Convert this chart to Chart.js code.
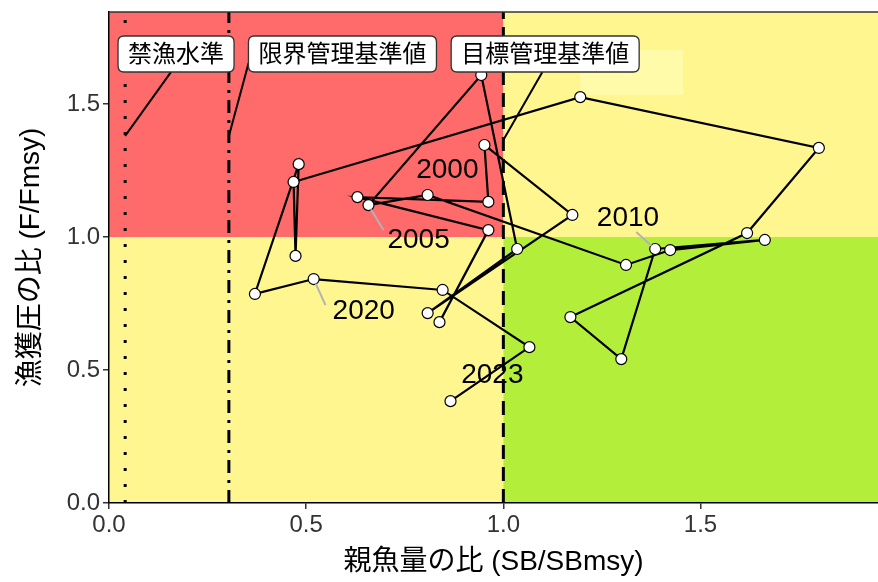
<!DOCTYPE html>
<html lang="ja">
<head>
<meta charset="utf-8">
<title>神戸プロット</title>
<script src="https://cdn.jsdelivr.net/npm/chart.js@4.4.1/dist/chart.umd.min.js"></script>
<style>
  html, body { margin: 0; padding: 0; background: #fff; }
  #wrap { width: 878px; height: 582px; }
</style>
</head>
<body>
<div id="wrap"><canvas id="kobeChart" width="878" height="582"></canvas></div>
<script>
// 年ごとの親魚量の比と漁獲圧の比
const years = [1996, 1997, 1998, 1999, 2000, 2001, 2002, 2003, 2004, 2005,
               2006, 2007, 2008, 2009, 2010, 2011, 2012, 2013, 2014, 2015,
               2016, 2017, 2018, 2019, 2020, 2021, 2022, 2023];
const sbRatio = [0.838, 0.962, 0.630, 0.962, 0.952, 1.175, 0.808, 1.035, 0.944, 0.658,
                 0.808, 1.311, 1.423, 1.663, 1.385, 1.299, 1.170, 1.618, 1.800, 1.195,
                 0.468, 0.473, 0.481, 0.370, 0.519, 0.846, 1.066, 0.866];
const fRatio = [0.680, 1.026, 1.150, 1.132, 1.346, 1.083, 0.714, 0.955, 1.609, 1.120,
                1.158, 0.895, 0.951, 0.989, 0.955, 0.541, 0.699, 1.015, 1.335, 1.526,
                1.207, 0.929, 1.274, 0.786, 0.842, 0.801, 0.586, 0.383];

// 目盛り
const xTicks = [0, 0.5, 1.0, 1.5];
const yTicks = [0, 0.5, 1.0, 1.5];

// 管理基準値
const refNames = ['禁漁水準', '限界管理基準値', '目標管理基準値'];
const refValues = [0.041, 0.304, 1.0];

// ラベルを付ける年
const labelYears = [2000, 2005, 2010, 2020, 2023];

// 色と線種
const RED = '#FF6A6A';
const YELLOW = '#FFF68F';
const GREEN = '#B3EE3A';
const FONT = "'Liberation Sans', 'Noto Sans CJK JP', sans-serif";
const refDash = [[3, 13], [13, 7, 3, 7], [14, 8]];

// 基準値ラベルの配置 (データ座標)
const refLabelLayout = [
    { cx: 0.170, cy: 1.688, ax: 1.380, ex: 0.157, ey: 1.620 },
    { cx: 0.592, cy: 1.688, ax: 1.380, ex: 0.354, ey: 1.654 },
    { cx: 1.106, cy: 1.688, ax: 1.365, ex: 1.099, ey: 1.620 }
];

// 年ラベルの配置 (データ座標)
const yearLabelLayout = [
    { tx: 0.858, ty: 1.252, lead: null },
    { tx: 0.785, ty: 0.989, lead: { x: 0.696, y: 1.026 } },
    { tx: 1.316, ty: 1.071, lead: { x: 1.337, y: 1.019 } },
    { tx: 0.646, ty: 0.722, lead: { x: 0.549, y: 0.744 } },
    { tx: 0.972, ty: 0.481, lead: null }
];

// 背景の四区分と基準線
const kobeBackground = {
    id: 'kobeBackground',
    beforeDraw(chart) {
        const { ctx, chartArea: a, scales: { x, y } } = chart;
        const x1 = x.getPixelForValue(1);
        const y1 = y.getPixelForValue(1);
        ctx.save();
        ctx.fillStyle = RED;
        ctx.fillRect(a.left, a.top, x1 - a.left, y1 - a.top);
        ctx.fillStyle = YELLOW;
        ctx.fillRect(x1, a.top, a.right - x1, y1 - a.top);
        ctx.fillRect(a.left, y1, x1 - a.left, a.bottom - y1);
        ctx.fillStyle = GREEN;
        ctx.fillRect(x1, y1, a.right - x1, a.bottom - y1);

        // うっすら見える空白ラベル
        ctx.fillStyle = 'rgba(255, 255, 190, 0.55)';
        const gx0 = x.getPixelForValue(1.195), gx1 = x.getPixelForValue(1.456);
        const gy0 = y.getPixelForValue(1.703), gy1 = y.getPixelForValue(1.534);
        ctx.fillRect(gx0, gy0, gx1 - gx0, gy1 - gy0);

        // 基準線
        ctx.strokeStyle = '#000';
        ctx.lineWidth = 3;
        ctx.lineCap = 'butt';
        refValues.forEach((v, i) => {
            const px = x.getPixelForValue(v);
            ctx.setLineDash(refDash[i]);
            ctx.beginPath();
            ctx.moveTo(px, a.bottom);
            ctx.lineTo(px, a.top);
            ctx.stroke();
        });
        ctx.restore();
    },
    afterDraw(chart) {
        const { ctx, chartArea: a } = chart;
        ctx.save();
        ctx.strokeStyle = '#333';
        ctx.lineWidth = 1.5;
        ctx.beginPath();
        ctx.moveTo(a.left, a.top);
        ctx.lineTo(a.right, a.top);
        ctx.stroke();
        ctx.restore();
    }
};

// 基準値ラベルと年ラベル
function roundRect(ctx, x, y, w, h, r) {
    ctx.beginPath();
    ctx.moveTo(x + r, y);
    ctx.lineTo(x + w - r, y);
    ctx.quadraticCurveTo(x + w, y, x + w, y + r);
    ctx.lineTo(x + w, y + h - r);
    ctx.quadraticCurveTo(x + w, y + h, x + w - r, y + h);
    ctx.lineTo(x + r, y + h);
    ctx.quadraticCurveTo(x, y + h, x, y + h - r);
    ctx.lineTo(x, y + r);
    ctx.quadraticCurveTo(x, y, x + r, y);
    ctx.closePath();
}

const kobeLabels = {
    id: 'kobeLabels',
    afterDatasetsDraw(chart) {
        const { ctx, scales: { x, y } } = chart;
        ctx.save();

        // 年ラベル
        labelYears.forEach((yr, i) => {
            const k = years.indexOf(yr);
            const lay = yearLabelLayout[i];
            const px = x.getPixelForValue(sbRatio[k]);
            const py = y.getPixelForValue(fRatio[k]);
            if (lay.lead) {
                const ex = x.getPixelForValue(lay.lead.x);
                const ey = y.getPixelForValue(lay.lead.y);
                const d = Math.hypot(ex - px, ey - py);
                ctx.strokeStyle = '#b3b3b3';
                ctx.lineWidth = 2;
                ctx.beginPath();
                ctx.moveTo(px + (ex - px) * 5 / d, py + (ey - py) * 5 / d);
                ctx.lineTo(ex, ey);
                ctx.stroke();
            }
            ctx.fillStyle = '#000';
            ctx.font = '28px ' + FONT;
            ctx.textAlign = 'center';
            ctx.textBaseline = 'middle';
            ctx.fillText(String(yr), x.getPixelForValue(lay.tx), y.getPixelForValue(lay.ty));
        });

        // 基準値ラベル
        ctx.font = '24px ' + FONT;
        refNames.forEach((name, i) => {
            const lay = refLabelLayout[i];
            ctx.strokeStyle = '#000';
            ctx.lineWidth = 2;
            ctx.setLineDash([]);
            ctx.beginPath();
            ctx.moveTo(x.getPixelForValue(refValues[i]), y.getPixelForValue(lay.ax));
            ctx.lineTo(x.getPixelForValue(lay.ex), y.getPixelForValue(lay.ey));
            ctx.stroke();

            const cx = x.getPixelForValue(lay.cx);
            const cy = y.getPixelForValue(lay.cy);
            const w = ctx.measureText(name).width + 20;
            const h = 36;
            roundRect(ctx, cx - w / 2, cy - h / 2, w, h, 6);
            ctx.fillStyle = '#fff';
            ctx.fill();
            ctx.strokeStyle = '#333';
            ctx.lineWidth = 1.3;
            ctx.stroke();
            ctx.fillStyle = '#000';
            ctx.textAlign = 'center';
            ctx.textBaseline = 'middle';
            ctx.fillText(name, cx, cy + 1);
        });
        ctx.restore();
    }
};

const points = years.map((yr, i) => ({ x: sbRatio[i], y: fRatio[i] }));

new Chart(document.getElementById('kobeChart'), {
    type: 'scatter',
    data: {
        datasets: [{
            label: '推移',
            data: points,
            showLine: true,
            borderColor: '#000',
            borderWidth: 2.2,
            pointRadius: 5.5,
            pointBackgroundColor: '#fff',
            pointBorderColor: '#000',
            pointBorderWidth: 1.2,
            tension: 0
        }]
    },
    options: {
        responsive: false,
        animation: false,
        layout: { autoPadding: false, padding: { top: 12, right: 0, bottom: 0, left: 0 } },
        plugins: {
            legend: { display: false },
            tooltip: { enabled: false }
        },
        scales: {
            x: {
                type: 'linear',
                min: 0,
                max: 1.95,
                afterBuildTicks: (scale) => { scale.ticks = xTicks.map(v => ({ value: v })); },
                afterFit: (scale) => {
                    scale.height = 79;
                    scale.paddingLeft = 0;
                    scale.paddingRight = 0;
                },
                ticks: {
                    color: '#333',
                    font: { size: 24, family: FONT },
                    padding: 2,
                    maxRotation: 0,
                    callback: (v) => Number(v).toFixed(1)
                },
                grid: { drawOnChartArea: false, drawTicks: true, tickLength: 6, color: '#333', lineWidth: 1.5 },
                border: { display: true, color: '#000', width: 1.5 },
                title: {
                    display: true,
                    text: '親魚量の比 (SB/SBmsy)',
                    color: '#000',
                    font: { size: 28, family: FONT },
                    padding: { top: 0, bottom: 3 }
                }
            },
            y: {
                type: 'linear',
                min: 0,
                max: 1.846,
                afterBuildTicks: (scale) => { scale.ticks = yTicks.map(v => ({ value: v })); },
                afterFit: (scale) => {
                    scale.width = 109;
                    scale.paddingTop = 0;
                    scale.paddingBottom = 0;
                },
                ticks: {
                    color: '#333',
                    font: { size: 24, family: FONT },
                    padding: 3,
                    callback: (v) => Number(v).toFixed(1)
                },
                grid: { drawOnChartArea: false, drawTicks: true, tickLength: 6, color: '#333', lineWidth: 1.5 },
                border: { display: true, color: '#000', width: 1.5 },
                title: {
                    display: true,
                    text: '漁獲圧の比 (F/Fmsy)',
                    color: '#000',
                    font: { size: 28, family: FONT },
                    padding: { top: 14, bottom: 0 }
                }
            }
        }
    },
    plugins: [kobeBackground, kobeLabels]
});
</script>
</body>
</html>
